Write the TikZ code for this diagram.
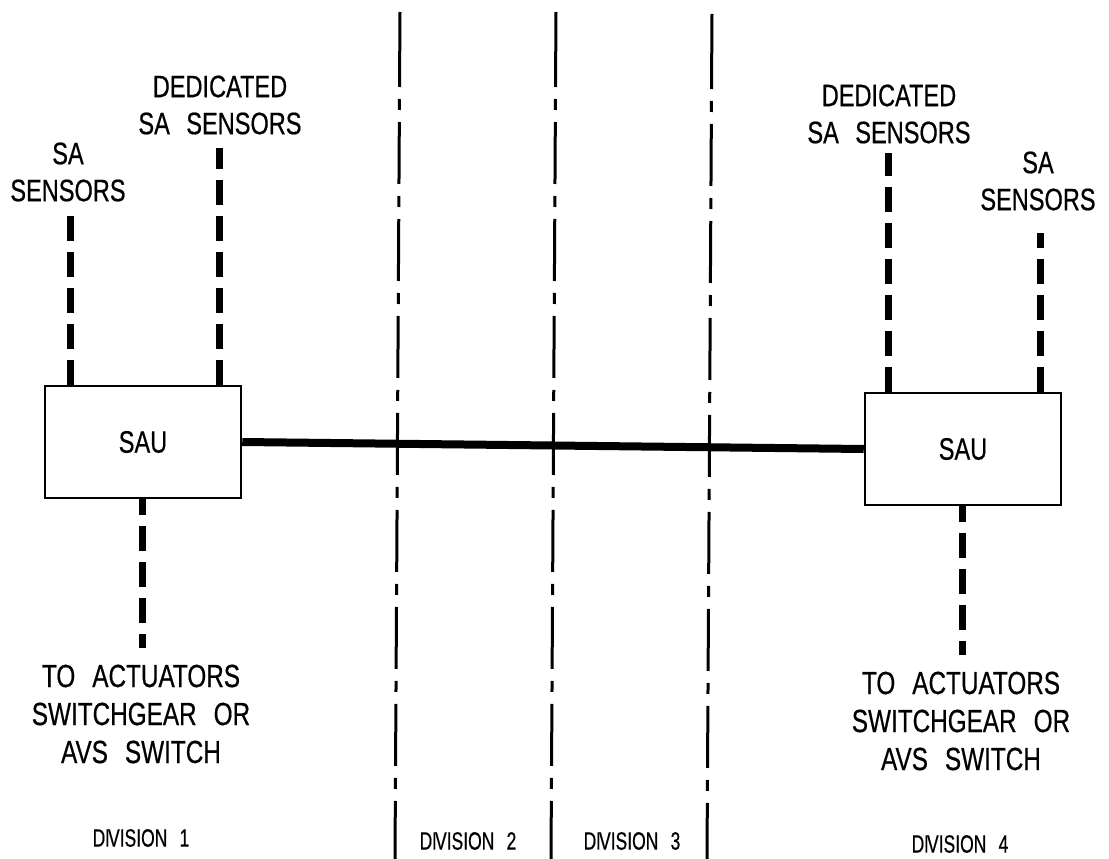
\documentclass[tikz,border=0pt]{standalone}
\usepackage{fontspec}
\setmainfont{Liberation Sans}
% slightly heavier face for the plotter-style lettering
\newfontface\plotfont[FakeBold=0.6]{Liberation Sans}
% condensed lettering with wide word gaps
\newcommand\narrow[2][0.76]{\scalebox{#1}[1]{\spaceskip=0.7em\relax #2}}
\newcommand\divname{D\kern-0.02em I\kern-0.1em VISION}
\begin{document}
\begin{tikzpicture}[x=1pt,y=-1pt,
  lbl/.style={font=\plotfont\fontsize{31}{37}\selectfont, align=center, inner sep=0pt},
  lowlbl/.style={font=\plotfont\fontsize{32}{38}\selectfont, align=center, inner sep=0pt},
  divlbl/.style={font=\plotfont\fontsize{25}{28}\selectfont, inner sep=0pt},
  unit/.style={draw, line width=2.5pt, minimum width=196pt, minimum height=112pt,
    inner sep=0pt, font=\plotfont\fontsize{31}{37}\selectfont},
  sensor/.style={line width=7pt, dash pattern=on 25pt off 11pt},
  trunk/.style={line width=8pt},
  divline/.style={line width=3pt, dash pattern=on 62pt off 12pt on 11pt off 12pt},
  divstub/.style={line width=3pt}]
\fill[white] (0,0) rectangle (1109,859);
\useasboundingbox (0,0) rectangle (1109,859);

% division boundaries (dash-dot)
\coordinate (d1a) at (400,12);  \coordinate (d1b) at (399.9,25); \coordinate (d1c) at (395,859);
\coordinate (d2a) at (556,12);  \coordinate (d2b) at (555.9,25); \coordinate (d2c) at (551,859);
\coordinate (d3a) at (712,14);  \coordinate (d3b) at (711.9,27); \coordinate (d3c) at (707,859);
\foreach \d in {d1,d2,d3}{
  \draw[divstub] (\d a) -- (\d b);
  \draw[divline] (\d b) -- (\d c);
}

% safety automation units
\node[unit] (sauL) at (143,442) {\narrow{SAU}};
\node[unit] (sauR) at (963,449) {\narrow{SAU}};

% link between the units
\draw[trunk] (sauL.east) -- (sauR.west);

% sensor and actuator runs
\coordinate (sL1) at (70,215);
\coordinate (sL2) at (219,148);
\coordinate (sL3) at (142,648);
\coordinate (sR1) at (888,153);
\coordinate (sR2) at (1040,233);
\coordinate (sR3) at (962,655);
\draw[sensor] (sauL.north -| sL1) -- (sL1);
\draw[sensor] (sauL.north -| sL2) -- (sL2);
\draw[sensor, dash phase=9pt] (sauL.south -| sL3) -- (sL3);
\draw[sensor] (sauR.north -| sR1) -- (sR1);
\draw[sensor] (sauR.north -| sR2) -- (sR2);
\draw[sensor, dash phase=9pt] (sauR.south -| sR3) -- (sR3);

% labels
\node[lbl] (tL1) at (68,172) {\narrow{SA}\\\narrow{SENSORS}};
\node[lbl] (tL2) at (220,105) {\narrow{DEDICATED}\\\narrow{SA SENSORS}};
\node[lbl] (tR1) at (889,114) {\narrow{DEDICATED}\\\narrow{SA SENSORS}};
\node[lbl] (tR2) at (1038,181) {\narrow{SA}\\\narrow{SENSORS}};
\node[lowlbl] (aL) at (141,714) {\narrow{TO ACTUATORS}\\\narrow{SWITCHGEAR OR}\\\narrow{AVS SWITCH}};
\node[lowlbl] (aR) at (961,721) {\narrow{TO ACTUATORS}\\\narrow{SWITCHGEAR OR}\\\narrow{AVS SWITCH}};

\node[divlbl] (div1) at (141,838) {\narrow[0.7]{\divname\ 1}};
\node[divlbl] (div2) at (468,841) {\narrow[0.7]{\divname\ 2}};
\node[divlbl] (div3) at (632,841) {\narrow[0.7]{\divname\ 3}};
\node[divlbl] (div4) at (960,844) {\narrow[0.7]{\divname\ 4}};
\end{tikzpicture}
\end{document}
